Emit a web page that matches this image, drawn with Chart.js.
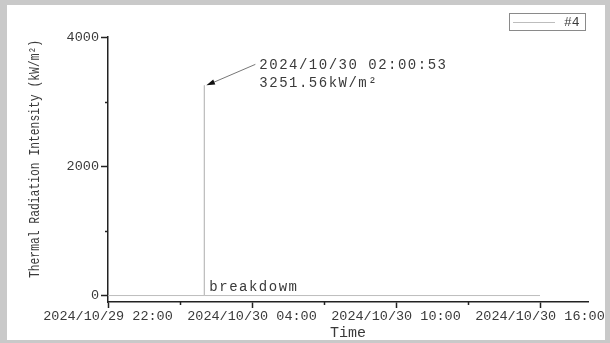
<!DOCTYPE html>
<html>
<head>
<meta charset="utf-8">
<script src="https://cdn.jsdelivr.net/npm/chart.js@4.4.1/dist/chart.umd.min.js"></script>
<style>
  html, body { margin: 0; padding: 0; background: #c9c9c9; }
  #wrap { width: 610px; height: 343px; }
</style>
</head>
<body>
<div id="wrap"><canvas id="radChart" width="610" height="343"></canvas></div>
<script>
// time axis in hours counted from 2024/10/29 22:00
var tickHours = [0, 3, 6, 9, 12, 15, 18];
var tickLabels = ['2024/10/29 22:00', '', '2024/10/30 04:00', '', '2024/10/30 10:00', '', '2024/10/30 16:00'];
var yTicks = [0, 1000, 2000, 3000, 4000];
var yLabels = ['0', '', '2000', '', '4000'];
var yTitle = 'Thermal Radiation Intensity (kW/m²)';

// sensor #4 readings
var seriesName = '#4';
var hours = [0, 4.0147, 4.0147, 4.0147, 18];
var intensity = [0, 0, 3251.56, 0, 0];

// peak reading and failure note
var peakIndex = 2;
var peakTime = '2024/10/30 02:00:53';
var failNote = 'breakdowm';

var monoFont = '"Liberation Mono", "DejaVu Sans Mono", monospace';
var textColor = '#3a3a3a';
var lineColor = '#bdbdbd';

var points = hours.map(function (h, i) { return { x: h, y: intensity[i] }; });

var panelPlugin = {
  id: 'panel',
  beforeDraw: function (chart) {
    var ctx = chart.ctx;
    ctx.save();
    ctx.fillStyle = '#c9c9c9';
    ctx.fillRect(0, 0, chart.width, chart.height);
    ctx.fillStyle = '#ffffff';
    ctx.fillRect(7, 5, 598, 335);
    ctx.restore();
  }
};

// short minor ticks, y title, legend box and peak callout
var extrasPlugin = {
  id: 'extras',
  afterDraw: function (chart) {
    var ctx = chart.ctx;
    var xs = chart.scales.x, ys = chart.scales.y;
    var area = chart.chartArea;
    ctx.save();

    // minor ticks
    ctx.strokeStyle = '#222';
    ctx.lineWidth = 1.5;
    tickHours.forEach(function (h, i) {
      if (tickLabels[i] !== '') return;
      var px = Math.round(xs.getPixelForValue(h)) + 0.5;
      ctx.beginPath();
      ctx.moveTo(px, area.bottom);
      ctx.lineTo(px, area.bottom + 3);
      ctx.stroke();
    });
    yTicks.forEach(function (v, i) {
      if (yLabels[i] !== '') return;
      var py = Math.round(ys.getPixelForValue(v)) + 0.5;
      ctx.beginPath();
      ctx.moveTo(area.left - 3, py);
      ctx.lineTo(area.left, py);
      ctx.stroke();
    });

    // y axis title, narrow and tall
    ctx.save();
    ctx.translate(35, 159);
    ctx.rotate(-Math.PI / 2);
    ctx.scale(0.81, 1);
    ctx.fillStyle = textColor;
    ctx.font = '14px ' + monoFont;
    ctx.textAlign = 'center';
    ctx.textBaseline = 'middle';
    ctx.fillText(yTitle, 0, 0);
    ctx.restore();

    // legend
    ctx.strokeStyle = '#8a8a8a';
    ctx.lineWidth = 1;
    ctx.strokeRect(509.5, 13.5, 76, 17);
    ctx.strokeStyle = lineColor;
    ctx.beginPath();
    ctx.moveTo(513, 22.5);
    ctx.lineTo(555, 22.5);
    ctx.stroke();
    ctx.fillStyle = textColor;
    ctx.font = '13px ' + monoFont;
    ctx.textBaseline = 'middle';
    ctx.textAlign = 'left';
    ctx.fillText(seriesName, 564, 22.5);

    // peak callout
    var px = xs.getPixelForValue(hours[peakIndex]);
    var py = ys.getPixelForValue(intensity[peakIndex]);
    var tipX = px + 2, tipY = py;
    var fromX = px + 51, fromY = py - 21;
    ctx.strokeStyle = '#777';
    ctx.lineWidth = 1;
    ctx.beginPath();
    ctx.moveTo(fromX, fromY);
    ctx.lineTo(tipX + 6, tipY - 2.5);
    ctx.stroke();
    var ang = Math.atan2(fromY - tipY, fromX - tipX);
    ctx.fillStyle = '#111';
    ctx.beginPath();
    ctx.moveTo(tipX, tipY);
    ctx.lineTo(tipX + 9 * Math.cos(ang - 0.3), tipY + 9 * Math.sin(ang - 0.3));
    ctx.lineTo(tipX + 9 * Math.cos(ang + 0.3), tipY + 9 * Math.sin(ang + 0.3));
    ctx.closePath();
    ctx.fill();

    ctx.fillStyle = textColor;
    ctx.font = '14px ' + monoFont;
    ctx.letterSpacing = '1.5px';
    ctx.fillText(peakTime, px + 55, py - 20);
    ctx.fillText(intensity[peakIndex].toFixed(2) + 'kW/m²', px + 55, py - 2);

    var zeroY = ys.getPixelForValue(0);
    ctx.fillText(failNote, px + 5, zeroY - 8.5);
    ctx.restore();
  }
};

var ctx = document.getElementById('radChart').getContext('2d');
var radChart = new Chart(ctx, {
  type: 'line',
  data: {
    datasets: [{
      label: seriesName,
      data: points,
      borderColor: lineColor,
      borderWidth: 1,
      pointRadius: 0,
      tension: 0,
      fill: false
    }]
  },
  options: {
    responsive: false,
    animation: false,
    layout: { padding: { left: 0, top: 37, right: 22, bottom: 0 } },
    plugins: {
      legend: { display: false },
      tooltip: { enabled: false }
    },
    scales: {
      x: {
        type: 'linear',
        min: 0,
        max: 20,
        afterBuildTicks: function (scale) {
          scale.ticks = tickHours.map(function (h) { return { value: h }; });
        },
        afterFit: function (scale) { scale.height = 41; },
        border: { color: '#222', width: 1.5 },
        grid: {
          drawOnChartArea: false,
          tickLength: 6,
          tickWidth: 1.5,
          tickColor: function (c) {
            return tickLabels[c.index] === '' ? 'rgba(0,0,0,0)' : '#222';
          }
        },
        ticks: {
          autoSkip: false,
          maxRotation: 0,
          padding: 0,
          color: textColor,
          font: { family: monoFont, size: 13.5 },
          callback: function (v, i) { return tickLabels[i]; }
        },
        title: {
          display: true,
          text: 'Time',
          color: textColor,
          padding: { top: 0, bottom: 1 },
          font: { family: monoFont, size: 15 }
        }
      },
      y: {
        min: -100,
        max: 4000,
        afterBuildTicks: function (scale) {
          scale.ticks = yTicks.map(function (v) { return { value: v }; });
        },
        afterFit: function (scale) { scale.width = 108; },
        border: { color: '#222', width: 1.5 },
        grid: {
          drawOnChartArea: false,
          tickLength: 7,
          tickWidth: 1.5,
          tickColor: function (c) {
            return yLabels[c.index] === '' ? 'rgba(0,0,0,0)' : '#222';
          }
        },
        ticks: {
          autoSkip: false,
          padding: 2,
          color: textColor,
          font: { family: monoFont, size: 13.5 },
          callback: function (v, i) { return yLabels[i]; }
        }
      }
    }
  },
  plugins: [panelPlugin, extrasPlugin]
});
</script>
</body>
</html>
